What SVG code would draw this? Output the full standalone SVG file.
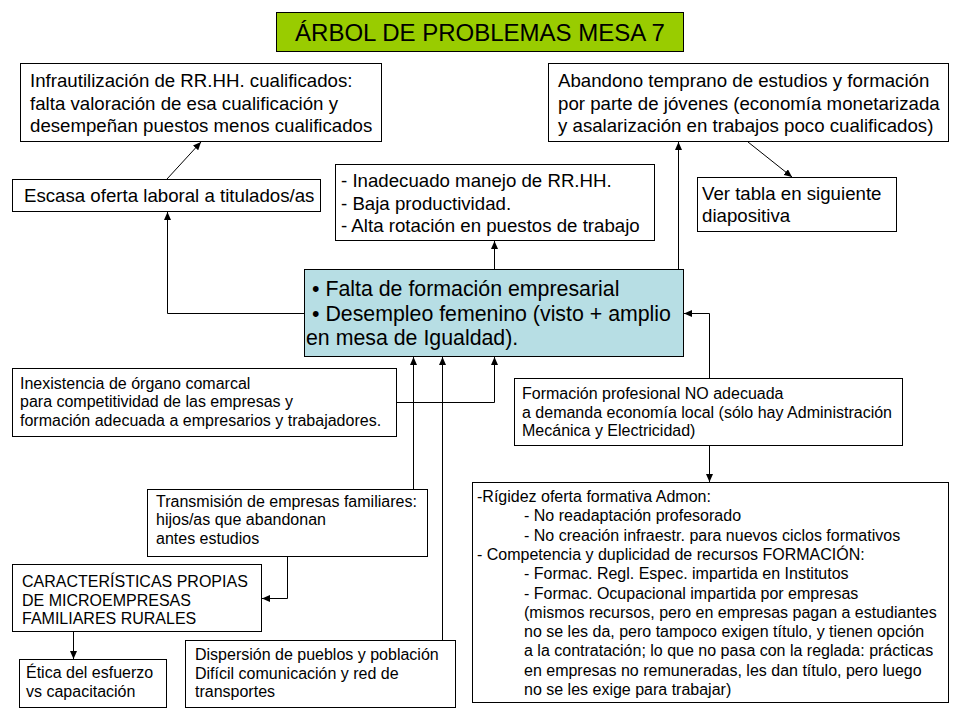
<svg xmlns="http://www.w3.org/2000/svg" width="960" height="720" viewBox="0 0 960 720">
<defs>
<style>
.box{fill:#ffffff;stroke:#000000;stroke-width:1}
.title{fill:#99CC00;stroke:#000000;stroke-width:1}
.core{fill:#B7DEE4;stroke:#000000;stroke-width:1}
text{font-family:"Liberation Sans",Arial,Helvetica,sans-serif;fill:#000000}
.t24{font-size:24px}
.t20{font-size:21.33px}
.t18{font-size:18.67px}
.t16{font-size:16px}
.con{fill:none;stroke:#000000;stroke-width:1}
</style>
<marker id="ah" viewBox="0 0 8 7" refX="8" refY="3.5" markerWidth="8" markerHeight="7" markerUnits="userSpaceOnUse" orient="auto">
<path d="M0,0 L8,3.5 L0,7 Z" fill="#000000"/>
</marker>
</defs>
<rect width="960" height="720" fill="#ffffff"/>

<g id="connectors">
<line class="con" x1="167" y1="179" x2="201" y2="142" marker-end="url(#ah)"/>
<polyline class="con" points="304,313.5 167.5,313.5 167.5,212" marker-end="url(#ah)"/>
<line class="con" x1="494.5" y1="269" x2="494.5" y2="241" marker-end="url(#ah)"/>
<line class="con" x1="678.5" y1="269" x2="678.5" y2="142" marker-end="url(#ah)"/>
<line class="con" x1="748" y1="142" x2="792" y2="177" marker-end="url(#ah)"/>
<polyline class="con" points="397,402.5 494.5,402.5 494.5,357" marker-end="url(#ah)"/>
<line class="con" x1="413.5" y1="489" x2="413.5" y2="357" marker-end="url(#ah)"/>
<line class="con" x1="442.5" y1="640" x2="442.5" y2="357" marker-end="url(#ah)"/>
<polyline class="con" points="709.5,378 709.5,313.5 684,313.5" marker-end="url(#ah)"/>
<line class="con" x1="709.5" y1="446" x2="709.5" y2="482" marker-end="url(#ah)"/>
<polyline class="con" points="287.5,557 287.5,598.5 262,598.5" marker-end="url(#ah)"/>
<line class="con" x1="73.5" y1="632" x2="73.5" y2="659" marker-end="url(#ah)"/>
</g>

<g id="title">
<rect class="title" x="276.5" y="12.5" width="407" height="39"/>
<text class="t24" x="480" y="41" text-anchor="middle">ÁRBOL DE PROBLEMAS MESA 7</text>
</g>

<g id="infrautilizacion">
<rect class="box" x="20.5" y="63.5" width="361" height="78"/>
<text class="t18" x="30" y="87">Infrautilización de RR.HH. cualificados:</text>
<text class="t18" x="30" y="109.5">falta valoración de esa cualificación y</text>
<text class="t18" x="30" y="132">desempeñan puestos menos cualificados</text>
</g>

<g id="abandono">
<rect class="box" x="548.5" y="63.5" width="400" height="78"/>
<text class="t18" x="558" y="87">Abandono temprano de estudios y formación</text>
<text class="t18" x="558" y="109.5">por parte de jóvenes (economía monetarizada</text>
<text class="t18" x="558" y="132">y asalarización en trabajos poco cualificados)</text>
</g>

<g id="escasa">
<rect class="box" x="12.5" y="179.5" width="308" height="32"/>
<text class="t18" x="24" y="202">Escasa oferta laboral a titulados/as</text>
</g>

<g id="inadecuado">
<rect class="box" x="335.5" y="164.5" width="319" height="76"/>
<text class="t18" x="341" y="187">- Inadecuado manejo de RR.HH.</text>
<text class="t18" x="341" y="209.5">- Baja productividad.</text>
<text class="t18" x="341" y="232">- Alta rotación en puestos de trabajo</text>
</g>

<g id="vertabla">
<rect class="box" x="697.5" y="177.5" width="199" height="54"/>
<text class="t18" x="702" y="199.5">Ver tabla en siguiente</text>
<text class="t18" x="702" y="222">diapositiva</text>
</g>

<g id="problema-central">
<rect class="core" x="304.5" y="269.5" width="379" height="87"/>
<text class="t20" x="312" y="296">• Falta de formación empresarial</text>
<text class="t20" x="312" y="320.5">• Desempleo femenino (visto + amplio</text>
<text class="t20" x="306" y="345">en mesa de Igualdad).</text>
</g>

<g id="inexistencia">
<rect class="box" x="12.5" y="368.5" width="384" height="68"/>
<text class="t16" x="20" y="389">Inexistencia de órgano comarcal</text>
<text class="t16" x="20" y="407.3">para competitividad de las empresas y</text>
<text class="t16" x="20" y="425.7">formación adecuada a empresarios y trabajadores.</text>
</g>

<g id="formacion-profesional">
<rect class="box" x="514.5" y="378.5" width="388" height="67"/>
<text class="t16" x="522" y="399">Formación profesional NO adecuada</text>
<text class="t16" x="522" y="417.5">a demanda economía local (sólo hay Administración</text>
<text class="t16" x="522" y="436">Mecánica y Electricidad)</text>
</g>

<g id="transmision">
<rect class="box" x="147.5" y="489.5" width="280" height="67"/>
<text class="t16" x="156" y="507">Transmisión de empresas familiares:</text>
<text class="t16" x="156" y="525.4">hijos/as que abandonan</text>
<text class="t16" x="156" y="543.8">antes estudios</text>
</g>

<g id="caracteristicas">
<rect class="box" x="12.5" y="564.5" width="249" height="67"/>
<text class="t16" x="22" y="587">CARACTERÍSTICAS PROPIAS</text>
<text class="t16" x="22" y="605.5">DE MICROEMPRESAS</text>
<text class="t16" x="22" y="624">FAMILIARES RURALES</text>
</g>

<g id="etica">
<rect class="box" x="19.5" y="659.5" width="147" height="48"/>
<text class="t16" x="26" y="678">Ética del esfuerzo</text>
<text class="t16" x="26" y="696.5">vs capacitación</text>
</g>

<g id="dispersion">
<rect class="box" x="185.5" y="640.5" width="270" height="67"/>
<text class="t16" x="195" y="660">Dispersión de pueblos y población</text>
<text class="t16" x="195" y="678.5">Difícil comunicación y red de</text>
<text class="t16" x="195" y="697">transportes</text>
</g>

<g id="rigidez">
<rect class="box" x="472.5" y="482.5" width="476" height="220"/>
<text class="t16" x="477" y="502">-Rígidez oferta formativa Admon:</text>
<text class="t16" x="524" y="521.3">- No readaptación profesorado</text>
<text class="t16" x="524" y="540.6">- No creación infraestr. para nuevos ciclos formativos</text>
<text class="t16" x="477" y="559.9">- Competencia y duplicidad de recursos FORMACIÓN:</text>
<text class="t16" x="524" y="579.2">- Formac. Regl. Espec. impartida en Institutos</text>
<text class="t16" x="524" y="598.5">- Formac. Ocupacional impartida por empresas</text>
<text class="t16" x="524" y="617.8">(mismos recursos, pero en empresas pagan a estudiantes</text>
<text class="t16" x="524" y="637.1">no se les da, pero tampoco exigen título, y tienen opción</text>
<text class="t16" x="524" y="656.4">a la contratación; lo que no pasa con la reglada: prácticas</text>
<text class="t16" x="524" y="675.7">en empresas no remuneradas, les dan título, pero luego</text>
<text class="t16" x="524" y="695">no se les exige para trabajar)</text>
</g>
</svg>
